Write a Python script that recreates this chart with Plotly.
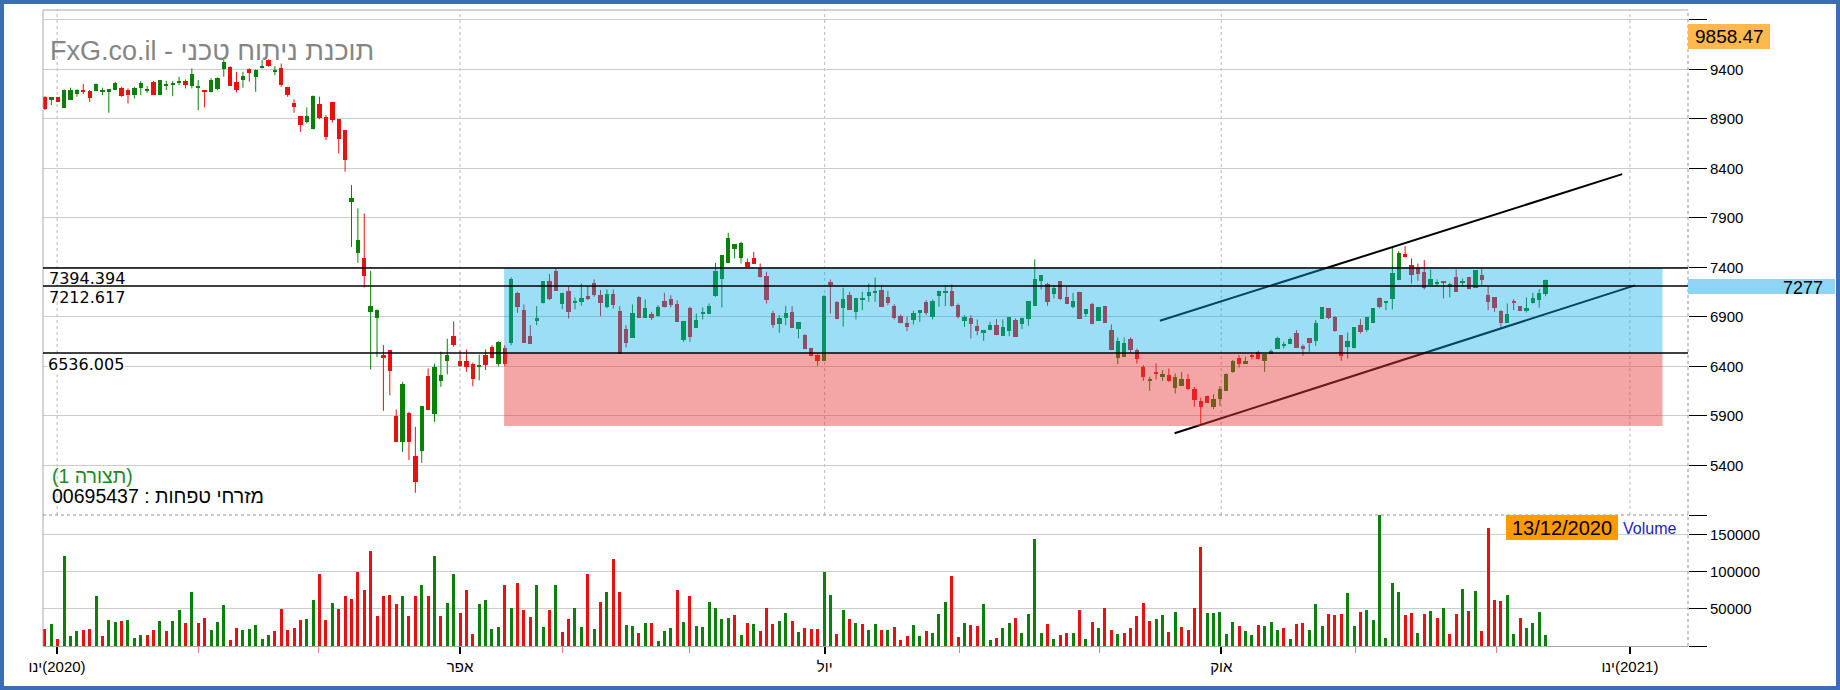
import plotly.graph_objects as go

W, H = 1840, 690
def px(x):
    return x / W
def py(y):
    return 1 - y / H

# ---------------- data ----------------
opens = [9124, 9090, 9117, 9012, 9090, 9151, 9184, 9181, 9181, 9181, 9174, 9191, 9208, 9191, 9140, 9208, 9191, 9275, 9140, 9241,
         9252, 9268, 9285, 9231, 9218, 9184, 9174, 9198, 9400, 9427, 9275, 9292, 9400, 9326, 9410, 9494, 9376, 9410, 9218, 9056,
         8932, 8871, 8794, 9046, 8915, 9070, 8895, 8784, 8063, 7548, 7491, 6952, 6891, 6514, 6565, 5898, 5639, 5935, 5494, 5548,
         6302, 5925, 6254, 6457, 6706, 6460, 6460, 6425, 6395, 6514, 6598, 6420, 6582, 6640, 7137, 6969, 6706, 6868, 7043, 7265,
         7363, 7026, 7161, 7036, 7053, 7114, 7238, 7120, 6996, 7127, 6959, 6774, 6689, 7097, 6892, 6925, 6912, 7060, 7077, 7026,
         6666, 6986, 6790, 6932, 6929, 7110, 7282, 7447, 7585, 7497, 7457, 7491, 7396, 7312, 6942, 6834, 6892, 6952, 6777, 6716,
         6582, 6514, 6457, 7255, 7053, 6993, 7120, 6952, 7073, 7110, 7150, 7171, 7097, 7009, 6908, 6844, 6868, 6942, 7053, 6895,
         7110, 7137, 7161, 7019, 6861, 6892, 6807, 6740, 6767, 6817, 6710, 6757, 6868, 6827, 6878, 7013, 7262, 7228, 7130, 7262,
         7097, 7003, 7154, 6929, 7030, 6861, 7009, 6767, 6481, 6498, 6676, 6565, 6397, 6262, 6330, 6296, 6312, 6178, 6205, 6272,
         6171, 6050, 6100, 5993, 6070, 6154, 6346, 6487, 6424, 6508, 6548, 6457, 6531, 6575, 6612, 6625, 6743, 6609, 6683, 6656,
         6878, 6986, 6895, 6716, 6592, 6582, 6817, 6767, 6841, 7087, 7050, 7080, 7272, 7535, 7423, 7396, 7356, 7221, 7235, 7255,
         7198, 7299, 7245, 7299, 7194, 7322, 7120, 7097, 6962, 6841, 7050, 7009, 6959, 7046, 7070, 7130]
highs = [9130, 9117, 9124, 9198, 9215, 9201, 9252, 9191, 9258, 9215, 9198, 9275, 9225, 9208, 9225, 9282, 9231, 9285, 9292, 9285,
         9282, 9326, 9299, 9410, 9292, 9191, 9309, 9319, 9494, 9433, 9376, 9376, 9410, 9400, 9494, 9501, 9433, 9460, 9225, 9097,
         8932, 9016, 9137, 9124, 8938, 9070, 8895, 8784, 8231, 7996, 7945, 7366, 6975, 6615, 6565, 5965, 6245, 5942, 5790, 6000,
         6380, 6430, 6550, 6680, 6855, 6560, 6571, 6440, 6520, 6572, 6615, 6655, 6615, 7300, 7154, 7026, 6817, 7009, 7262, 7333,
         7390, 7144, 7205, 7097, 7238, 7211, 7279, 7171, 7178, 7178, 7009, 6817, 7026, 7110, 7077, 6952, 7020, 7144, 7120, 7070,
         6858, 7003, 6935, 6996, 7036, 7447, 7524, 7750, 7635, 7659, 7491, 7558, 7440, 7356, 6962, 6918, 7013, 7009, 6851, 6726,
         6590, 6531, 7120, 7279, 7060, 7195, 7154, 7087, 7154, 7238, 7299, 7221, 7164, 7030, 6925, 6902, 6962, 6969, 7070, 7077,
         7164, 7221, 7228, 7036, 6918, 6918, 6875, 6767, 6851, 6878, 6875, 6895, 6885, 6895, 7060, 7481, 7322, 7245, 7221, 7262,
         7205, 7144, 7154, 6976, 7043, 6996, 7009, 6824, 6693, 6693, 6693, 6582, 6413, 6296, 6430, 6363, 6380, 6329, 6346, 6322,
         6194, 6083, 6104, 6120, 6201, 6329, 6464, 6514, 6498, 6531, 6560, 6531, 6572, 6700, 6649, 6693, 6767, 6622, 6683, 6868,
         6996, 6986, 6908, 6716, 6743, 6794, 6878, 6895, 6986, 7097, 7060, 7609, 7565, 7615, 7491, 7440, 7474, 7380, 7279, 7255,
         7245, 7380, 7289, 7299, 7373, 7390, 7205, 7097, 6969, 7036, 7080, 7009, 7097, 7144, 7181, 7277]
lows = [8989, 9039, 9070, 9012, 9090, 9124, 9151, 9073, 9181, 9140, 8962, 9191, 9124, 9056, 9107, 9140, 9164, 9140, 9140, 9191,
        9130, 9241, 9208, 9208, 8989, 9016, 9167, 9191, 9326, 9231, 9167, 9215, 9275, 9174, 9410, 9427, 9342, 9225, 9124, 8962,
        8770, 8854, 8794, 8898, 8686, 8864, 8551, 8366, 7608, 7447, 7198, 6369, 6497, 5952, 6110, 5639, 5538, 5454, 5124, 5427,
        5959, 5841, 6194, 6320, 6598, 6395, 6346, 6200, 6260, 6364, 6480, 6400, 6405, 6615, 6942, 6639, 6632, 6817, 7036, 7070,
        7164, 6979, 6885, 6976, 7013, 7070, 7104, 6908, 6986, 6986, 6531, 6592, 6689, 6892, 6892, 6868, 6902, 6996, 6996, 6851,
        6649, 6649, 6790, 6875, 6929, 7104, 6996, 7447, 7491, 7440, 7400, 7434, 7299, 7036, 6790, 6740, 6817, 6790, 6683, 6575,
        6504, 6407, 6457, 6935, 6878, 6801, 6969, 6875, 6969, 7053, 7053, 7003, 7019, 6875, 6834, 6757, 6824, 6851, 6918, 6875,
        7003, 7009, 7003, 6885, 6801, 6683, 6716, 6659, 6767, 6716, 6710, 6706, 6700, 6777, 6811, 7013, 7178, 7013, 7087, 7070,
        7030, 6986, 6878, 6902, 6827, 6861, 6841, 6565, 6424, 6498, 6538, 6430, 6255, 6154, 6268, 6255, 6245, 6127, 6205, 6161,
        5993, 5818, 6033, 5969, 6003, 6154, 6336, 6390, 6424, 6471, 6471, 6346, 6531, 6575, 6582, 6625, 6589, 6508, 6548, 6609,
        6878, 6878, 6750, 6457, 6481, 6582, 6733, 6750, 6841, 6986, 6969, 6976, 7272, 7501, 7238, 7265, 7178, 7221, 7211, 7087,
        7097, 7154, 7205, 7178, 7194, 7221, 6969, 6952, 6784, 6841, 6969, 6959, 6945, 7036, 6993, 7110]
closes = [8996, 9117, 9073, 9191, 9191, 9191, 9177, 9113, 9248, 9188, 9198, 9265, 9130, 9140, 9215, 9265, 9201, 9140, 9292, 9252,
          9262, 9278, 9238, 9353, 9228, 9174, 9292, 9309, 9477, 9231, 9191, 9332, 9359, 9393, 9433, 9437, 9390, 9241, 9140, 9016,
          8834, 8932, 9130, 8911, 8720, 8888, 8693, 8484, 8103, 7676, 7312, 7009, 6969, 6481, 6356, 5639, 6221, 5639, 5235, 6000,
          5959, 6396, 6312, 6514, 6615, 6405, 6398, 6275, 6405, 6415, 6487, 6645, 6430, 7279, 6996, 6639, 6632, 6885, 7262, 7077,
          7164, 7137, 6952, 7060, 7087, 7077, 7120, 7043, 7127, 7019, 6531, 6639, 6942, 6892, 6993, 6885, 6996, 6996, 7019, 6851,
          6858, 6699, 6868, 6936, 7009, 7363, 7524, 7700, 7635, 7652, 7400, 7434, 7299, 7070, 6817, 6892, 6942, 6790, 6851, 6575,
          6504, 6457, 7110, 7220, 6878, 7080, 6969, 7087, 7077, 7154, 7154, 7003, 7043, 6892, 6841, 6801, 6945, 6969, 6942, 7063,
          7164, 7164, 7013, 6895, 6895, 6834, 6760, 6767, 6817, 6716, 6801, 6895, 6700, 6885, 7060, 7279, 7322, 7053, 7188, 7077,
          7030, 7060, 6878, 6976, 6827, 6996, 6841, 6565, 6656, 6642, 6565, 6471, 6296, 6265, 6326, 6329, 6255, 6296, 6272, 6168,
          6060, 5993, 6033, 6070, 6171, 6329, 6454, 6430, 6454, 6504, 6471, 6531, 6555, 6683, 6615, 6676, 6589, 6575, 6639, 6844,
          6996, 6885, 6757, 6508, 6656, 6794, 6750, 6895, 6986, 6996, 7053, 7349, 7541, 7508, 7322, 7333, 7194, 7279, 7238, 7248,
          7228, 7154, 7248, 7178, 7373, 7272, 7053, 6993, 6841, 6935, 7046, 6959, 6993, 7087, 7144, 7277]
volumes = [23000, 30000, 9500, 121000, 13600, 20500, 22000, 23000, 67000, 13600, 35500, 32700, 34000, 35500, 11000, 15000, 15000, 22000, 34000, 20500,
           34000, 49000, 31000, 73600, 31000, 38000, 22000, 32700, 56000, 8000, 24500, 22000, 23000, 28600, 9500, 15000, 20500, 50500, 22000, 24500,
           35500, 37000, 62700, 97000, 35500, 58600, 50500, 68000, 64000, 100000, 76000, 129000, 41000, 67000, 69500, 57000, 67000, 41000, 68000, 83000,
           67000, 121000, 41000, 58600, 97000, 45000, 76000, 16000, 57000, 62700, 23000, 26000, 83000, 52000, 84500, 49000, 39500, 83000, 26000, 49000,
           83000, 19000, 37000, 52000, 26000, 97000, 23000, 60000, 73600, 118000, 73600, 28600, 27000, 17700, 31000, 31000, 7000, 20500, 24500, 76000,
           32700, 67000, 27000, 26000, 60000, 52000, 37000, 38000, 42000, 15000, 31000, 30000, 20500, 52000, 30000, 34000, 45000, 34000, 19000, 24500,
           23000, 23000, 100000, 69500, 16000, 49000, 37000, 31000, 30000, 22000, 30000, 22000, 22000, 26000, 8000, 13600, 28600, 13600, 20500, 17700,
           43600, 60000, 95000, 12000, 31000, 28600, 27000, 57000, 8000, 11000, 24500, 31000, 38000, 17700, 43600, 145000, 17700, 30000, 9500, 15000,
           17700, 17700, 49000, 9500, 32700, 24500, 51800, 22000, 16000, 17700, 24500, 41000, 58600, 34000, 37000, 42000, 19000, 46000, 26000, 22000,
           51800, 134000, 45000, 45000, 46000, 16000, 32700, 27000, 20500, 15000, 28600, 27000, 32700, 22000, 24500, 9500, 30000, 31000, 22000, 57000,
           27000, 43600, 42000, 43600, 71000, 27000, 46000, 49000, 35500, 180000, 11000, 85000, 73000, 42000, 45000, 18000, 43000, 47000, 38000, 52000,
           16000, 43000, 77000, 47000, 74000, 20000, 160000, 62000, 61000, 69000, 16000, 38000, 24000, 31000, 46000, 15000]

tick_pos = [1.9, 65.0, 122.1, 184.2, 248.2]
tick_labels = ["ינו\u200e(2020)", "אפר", "יול", "אוק", "ינו\u200e(2021)"]
minor_tick_pos = [24.0, 42.8, 81.1, 101.0, 143.2, 165.2, 205.2, 227.3]
price_ticks = list(range(4900, 10000, 500))
volume_ticks = [0, 50000, 100000, 150000]
levels = [7394.394, 7212.617, 6536.005]
level_labels = ["7394.394", "7212.617", "6536.005"]
upper_channel = [(174.6, 6861), (247.0, 8342)]
lower_channel = [(176.9, 5726), (249.0, 7219)]
zone_x = (71.9, 253.3)
zone_blue = (6536.005, 7394.394)
zone_red = (5800, 6536.005)
last_price = "7277"
top_value = "9858.47"
date_label = "13/12/2020"

# ---------------- figure ----------------
GREEN = "#0b800b"
RED = "#ea1010"
FONT = "Liberation Sans, Arial, sans-serif"

n = len(opens)
idx = list(range(n))
up = [closes[i] >= opens[i] for i in idx]
# volume bars are coloured by the change from the previous close
vol_up = [up[0]] + [closes[i] >= closes[i - 1] for i in idx[1:]]

fig = go.Figure()

for is_up, col in ((True, GREEN), (False, RED)):
    sel = [i for i in idx if up[i] == is_up]
    wx, wy = [], []
    for i in sel:
        wx += [i, i, None]
        wy += [lows[i], highs[i], None]
    fig.add_trace(go.Scatter(x=wx, y=wy, mode="lines", line=dict(color=col, width=1),
                             hoverinfo="skip", xaxis="x", yaxis="y"))
    fig.add_trace(go.Bar(x=sel,
                         y=[max(abs(closes[i] - opens[i]), 9) for i in sel],
                         base=[min(opens[i], closes[i]) for i in sel],
                         width=0.68, marker=dict(color=col, line=dict(width=0)),
                         xaxis="x", yaxis="y"))

fig.add_trace(go.Bar(x=idx, y=volumes, width=0.47,
                     marker=dict(color=[GREEN if u else RED for u in vol_up], line=dict(width=0)),
                     xaxis="x", yaxis="y2"))

shapes = []
GRAY = "#a8a8a8"
for t in tick_pos:
    shapes.append(dict(type="line", xref="x", yref="y domain", x0=t, x1=t, y0=0, y1=1,
                       line=dict(color="#b8b8b8", width=1, dash="dot"), layer="below"))
# frame
shapes.append(dict(type="line", xref="paper", yref="paper", x0=px(43), x1=px(1688), y0=py(10), y1=py(10),
                   line=dict(color=GRAY, width=1)))
shapes.append(dict(type="line", xref="paper", yref="paper", x0=px(43), x1=px(43), y0=py(646), y1=py(10),
                   line=dict(color=GRAY, width=1)))
shapes.append(dict(type="line", xref="paper", yref="paper", x0=px(1688), x1=px(1688), y0=py(646), y1=py(10),
                   line=dict(color="#909090", width=1, dash="dot")))
shapes.append(dict(type="line", xref="paper", yref="paper", x0=px(43), x1=px(1688), y0=py(515), y1=py(515),
                   line=dict(color="#909090", width=1, dash="dot")))
# channel
for (a, b) in (upper_channel, lower_channel):
    shapes.append(dict(type="line", xref="x", yref="y", x0=a[0], y0=a[1], x1=b[0], y1=b[1],
                       line=dict(color="black", width=2)))
# zones
shapes.append(dict(type="rect", xref="x", yref="y", x0=zone_x[0], x1=zone_x[1], y0=zone_blue[0], y1=zone_blue[1],
                   fillcolor="rgba(5,172,230,0.40)", line=dict(width=0), layer="above"))
shapes.append(dict(type="rect", xref="x", yref="y", x0=zone_x[0], x1=zone_x[1], y0=zone_red[0], y1=zone_red[1],
                   fillcolor="rgba(231,55,55,0.45)", line=dict(width=0), layer="above"))
# horizontal levels
for lv in levels:
    shapes.append(dict(type="line", xref="x domain", yref="y", x0=0, x1=1, y0=lv, y1=lv,
                       line=dict(color="black", width=1.3)))
# value boxes
shapes.append(dict(type="rect", xref="paper", yref="paper", x0=px(1688), x1=px(1770), y0=py(49), y1=py(24),
                   fillcolor="#ffb84d", line=dict(width=0)))
shapes.append(dict(type="rect", xref="paper", yref="paper", x0=px(1688), x1=px(1835), y0=py(294), y1=py(279),
                   fillcolor="#8fd4f5", line=dict(width=0)))
shapes.append(dict(type="rect", xref="paper", yref="paper", x0=px(1506), x1=px(1618), y0=py(540), y1=py(515),
                   fillcolor="#ff9a00", line=dict(width=0)))
# outer blue frame
shapes.append(dict(type="rect", xref="paper", yref="paper", x0=px(2), x1=px(1838), y0=py(688), y1=py(2),
                   line=dict(color="#3b6db6", width=4), fillcolor="rgba(0,0,0,0)"))

ann = []
ann.append(dict(text="FxG.co.il - תוכנת ניתוח טכני", x=px(48), y=py(51), xref="paper", yref="paper",
                xanchor="left", yanchor="middle", showarrow=False,
                font=dict(family=FONT, size=27, color="#858585")))
ann.append(dict(text="(תצורה 1)", x=px(50), y=py(476), xref="paper", yref="paper",
                xanchor="left", yanchor="middle", showarrow=False,
                font=dict(family=FONT, size=19.5, color="#1a8a1a")))
ann.append(dict(text="מזרחי טפחות : 00695437", x=px(50), y=py(496), xref="paper", yref="paper",
                xanchor="left", yanchor="middle", showarrow=False,
                font=dict(family=FONT, size=19.5, color="black")))
for lv, lab, yc in zip(levels, level_labels, (278.5, 297.3, 364.0)):
    a = dict(text=lab, x=px(47), y=py(yc), xref="paper", yref="paper",
             xanchor="left", yanchor="middle", showarrow=False,
             font=dict(family="DejaVu Sans, sans-serif", size=16, color="black"))
    if lv == levels[2]:
        a.update(bgcolor="white", borderpad=0)
    ann.append(a)
ann.append(dict(text=top_value, x=px(1729), y=py(36.5), xref="paper", yref="paper",
                xanchor="center", yanchor="middle", showarrow=False,
                font=dict(family=FONT, size=19, color="black")))
ann.append(dict(text=last_price, x=px(1825), y=py(288), xref="paper", yref="paper",
                xanchor="right", yanchor="middle", showarrow=False,
                font=dict(family=FONT, size=18, color="black")))
ann.append(dict(text=date_label, x=px(1562), y=py(528), xref="paper", yref="paper",
                xanchor="center", yanchor="middle", showarrow=False,
                font=dict(family=FONT, size=20, color="black")))
ann.append(dict(text="Volume", x=px(1621), y=py(528), xref="paper", yref="paper",
                xanchor="left", yanchor="middle", showarrow=False,
                font=dict(family=FONT, size=16, color="#1c1cc8")))

axis_font = dict(family=FONT, size=15, color="black")
fig.update_layout(
    width=W, height=H, margin=dict(l=0, r=0, t=0, b=0, pad=0, autoexpand=False),
    paper_bgcolor="white", plot_bgcolor="white", showlegend=False,
    barmode="overlay", bargap=0,
    xaxis=dict(domain=[px(43), px(1688)], range=[-0.31, 257.3], anchor="y2", automargin=False,
               tickmode="array", tickvals=tick_pos, ticktext=tick_labels,
               ticks="outside", ticklen=7, tickwidth=1.5, tickcolor="black",
               showgrid=False, zeroline=False, showline=True, linecolor=GRAY, linewidth=1,
               tickfont=axis_font,
               minor=dict(tickvals=minor_tick_pos, ticks="outside", ticklen=6, tickwidth=1,
                          tickcolor="#e88080", showgrid=False)),
    yaxis=dict(domain=[py(515), py(10)], range=[4900, 10000], side="right", anchor="x", automargin=False,
               tickmode="array", tickvals=price_ticks,
               ticktext=["" if v in (4900, 9900) else str(v) for v in price_ticks],
               ticks="outside", ticklen=18, tickwidth=1, tickcolor="black",
               showgrid=True, gridcolor="#cccccc", gridwidth=1, zeroline=False, showline=False,
               tickfont=axis_font),
    yaxis2=dict(domain=[py(646), py(515)], range=[0, 177000], side="right", anchor="x", automargin=False,
                tickmode="array", tickvals=volume_ticks,
                ticktext=["" if v == 0 else str(v) for v in volume_ticks],
                ticks="outside", ticklen=18, tickwidth=1, tickcolor="black",
                showgrid=True, gridcolor="#cccccc", gridwidth=1, zeroline=False, showline=False,
                tickfont=axis_font),
    shapes=shapes, annotations=ann,
)

fig.write_html("out.html", config={"displayModeBar": False},
               post_script="document.body.style.margin='0';document.body.style.overflow='hidden';")
